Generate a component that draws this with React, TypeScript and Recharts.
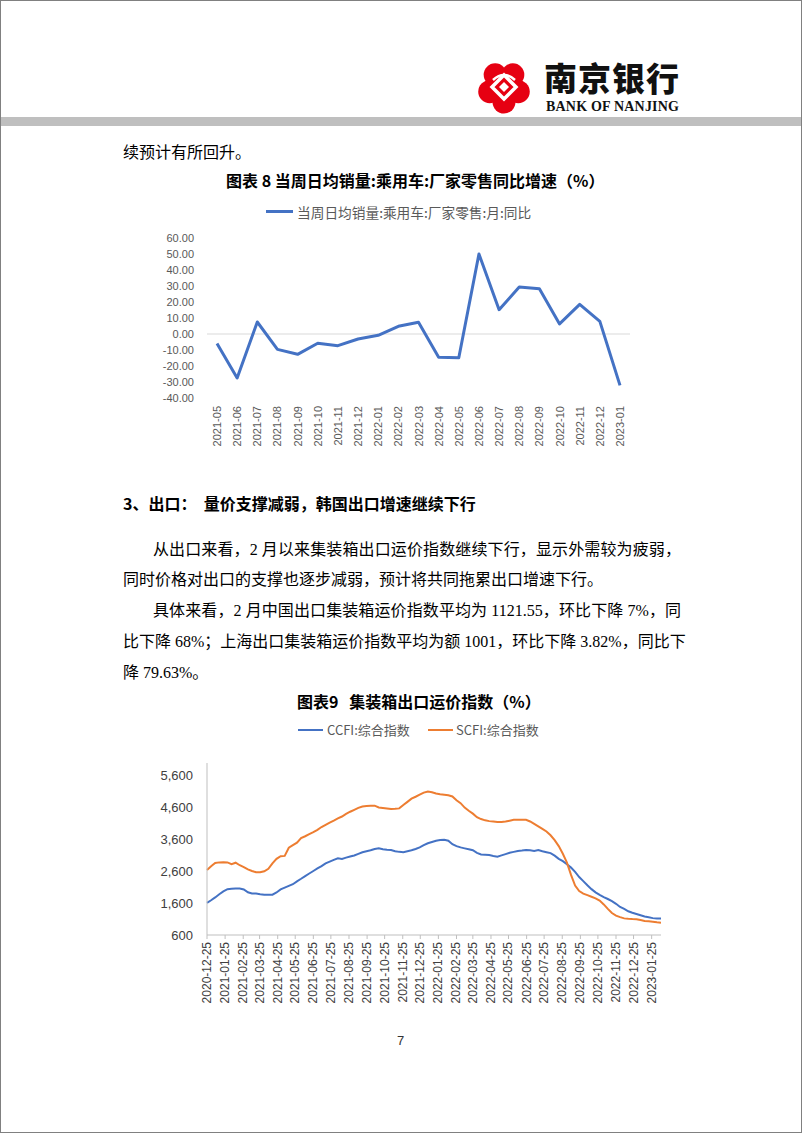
import React from 'react';
import { LineChart, Line, XAxis, YAxis, ReferenceLine } from 'recharts';

// 图表8: 当周日均销量:乘用车:厂家零售:月:同比 (%)
const salesMonths = [
  '2021-05', '2021-06', '2021-07', '2021-08', '2021-09', '2021-10', '2021-11',
  '2021-12', '2022-01', '2022-02', '2022-03', '2022-04', '2022-05', '2022-06',
  '2022-07', '2022-08', '2022-09', '2022-10', '2022-11', '2022-12', '2023-01',
];
const salesYoY = [
  -6.0, -27.5, 7.5, -9.6, -12.7, -5.8, -7.3, -3.1, -0.8, 4.8, 7.3, -14.6, -14.8, 50.0,
  15.2, 29.4, 28.3, 6.3, 18.5, 7.9, -32.1,
];
const salesTicks = [-40, -30, -20, -10, 0, 10, 20, 30, 40, 50, 60];

// 图表9: 集装箱出口运价指数, weekly from 2020-12-25
const freightStart = '2020-12-25';
const ccfi = [
  1610, 1690, 1780, 1880, 1970, 2040, 2055, 2060, 2060, 2030,
  1940, 1905, 1900, 1880, 1865, 1860, 1865, 1935, 2030, 2087,
  2140, 2195, 2285, 2365, 2450, 2530, 2610, 2690, 2765, 2850,
  2905, 2960, 3009, 2990, 3030, 3065, 3095, 3145, 3198, 3230,
  3260, 3300, 3320, 3290, 3275, 3270, 3230, 3210, 3200, 3230,
  3260, 3300, 3350, 3420, 3480, 3520, 3560, 3580, 3590, 3560,
  3450, 3390, 3350, 3320, 3290, 3260, 3180, 3130, 3120, 3110,
  3080, 3060, 3100, 3140, 3180, 3210, 3240, 3250, 3265, 3260,
  3240, 3270, 3230, 3200, 3170, 3090, 2990, 2920, 2820, 2716,
  2580, 2420, 2290, 2160, 2040, 1940, 1860, 1790, 1730, 1660,
  1580, 1480, 1420, 1345, 1300, 1260, 1220, 1180, 1155, 1130, 1115, 1120,
];
const scfi = [
  2644, 2760, 2860, 2880, 2885, 2880, 2825, 2870, 2790, 2730,
  2660, 2610, 2569, 2569, 2600, 2680, 2850, 2990, 3075, 3084,
  3340, 3420, 3500, 3640, 3700, 3764, 3830, 3900, 3990, 4060,
  4131, 4190, 4260, 4320, 4400, 4470, 4530, 4590, 4635, 4648,
  4655, 4660, 4605, 4590, 4575, 4555, 4560, 4575, 4680, 4780,
  4880, 4940, 5005, 5070, 5106, 5080, 5040, 5020, 5005, 4985,
  4950, 4830, 4740, 4600, 4500, 4410, 4300, 4240, 4200, 4175,
  4160, 4145, 4150, 4165, 4190, 4215, 4220, 4220, 4215, 4165,
  4090, 4010, 3930, 3850, 3730, 3580, 3390, 3150, 2870, 2487,
  2150, 1980, 1900, 1850, 1800, 1752, 1680, 1560, 1420, 1290,
  1207, 1160, 1122, 1108, 1100, 1095, 1070, 1040, 1030, 1018, 1000, 987,
];
const freightTicks = [
  '2020-12-25', '2021-01-25', '2021-02-25', '2021-03-25', '2021-04-25', '2021-05-25',
  '2021-06-25', '2021-07-25', '2021-08-25', '2021-09-25', '2021-10-25', '2021-11-25',
  '2021-12-25', '2022-01-25', '2022-02-25', '2022-03-25', '2022-04-25', '2022-05-25',
  '2022-06-25', '2022-07-25', '2022-08-25', '2022-09-25', '2022-10-25', '2022-11-25',
  '2022-12-25', '2023-01-25',
];
const freightYTicks = [600, 1600, 2600, 3600, 4600, 5600];

const DAY = 86400000;
const toDay = (s: string) => Date.parse(s + 'T00:00:00Z') / DAY;
const fromDay = (d: number) => new Date(d * DAY).toISOString().slice(0, 10);

const salesData = salesMonths.map((m, i) => ({ month: m, yoy: salesYoY[i] }));
const freightData = ccfi.map((v, i) => ({
  day: toDay(freightStart) + i * 7,
  ccfi: v,
  scfi: scfi[i],
}));

const CJK = '"Noto Sans CJK SC", sans-serif';
const BODY = '"Liberation Serif", "Noto Sans CJK SC", serif';
const AXIS = '"Liberation Sans", Arial, sans-serif';

function RotatedTick(props: any) {
  const { x, y, payload, fontSize, fill, format } = props;
  const label = format ? format(payload.value) : payload.value;
  return (
    <text
      x={x}
      y={y}
      transform={`rotate(-90 ${x} ${y})`}
      textAnchor="end"
      dominantBaseline="central"
      fontSize={fontSize}
      fill={fill}
      fontFamily={AXIS}
    >
      {label}
    </text>
  );
}

function TextLine({ left, center, width, children, bold, size = 16, justify }: any) {
  return (
    <div
      style={{
        position: 'absolute',
        left,
        top: center - 10,
        width,
        height: 20,
        lineHeight: '20px',
        fontSize: size,
        fontFamily: bold ? CJK : BODY,
        fontWeight: bold ? 700 : 400,
        color: '#000',
        whiteSpace: 'nowrap',
        textAlign: justify ? 'justify' : 'left',
        textAlignLast: justify ? 'justify' : 'auto',
      } as React.CSSProperties}
    >
      {children}
    </div>
  );
}

function Logo() {
  const petals = [90, 162, 234, 306, 18];
  return (
    <svg style={{ position: 'absolute', left: 474, top: 57 }} width={58} height={58} viewBox="0 0 58 58">
      {petals.map((a) => (
        <circle
          key={a}
          cx={29 + 15 * Math.cos((a * Math.PI) / 180)}
          cy={29 + 15 * Math.sin((a * Math.PI) / 180)}
          r={11.5}
          fill="#E60012"
        />
      ))}
      <circle cx={29} cy={29} r={16} fill="#E60012" />
      <path d="M29 17 L41 29 L29 41 L17 29 Z" fill="none" stroke="#fff" strokeWidth={3.5} />
      <path d="M29 24 L34 29 L29 34 L24 29 Z" fill="#fff" />
      <path d="M18 22 Q29 12 40 22" fill="none" stroke="#fff" strokeWidth={2.5} />
    </svg>
  );
}

export default function App() {
  return (
    <div
      style={{
        position: 'relative',
        width: 802,
        height: 1133,
        boxSizing: 'border-box',
        border: '1px solid #808080',
        background: '#fff',
        overflow: 'hidden',
      }}
    >
      <style>{`body{margin:0}`}</style>

      {/* header */}
      <Logo />
      <div
        style={{
          position: 'absolute', left: 543, top: 60, fontSize: 33, lineHeight: '33px', height: 33,
          fontFamily: CJK, fontWeight: 900, color: '#111', letterSpacing: 1,
        }}
      >
        南京银行
      </div>
      <div
        style={{
          position: 'absolute', left: 545, top: 99, fontSize: 14, lineHeight: '14px',
          fontFamily: '"Liberation Serif", serif', fontWeight: 700, color: '#111', letterSpacing: 0.2,
        }}
      >
        BANK OF NANJING
      </div>
      <div style={{ position: 'absolute', left: 0, top: 116, width: 802, height: 9, background: '#BFBFBF' }} />

      <TextLine left={122} center={152}>续预计有所回升。</TextLine>
      <TextLine left={225} center={179} bold>图表 8 当周日均销量:乘用车:厂家零售同比增速（%）</TextLine>

      {/* chart 8 legend */}
      <div style={{ position: 'absolute', left: 265, top: 209, width: 27, height: 3, background: '#4472C4' }} />
      <div
        style={{
          position: 'absolute', left: 296, top: 201, fontSize: 13.7, lineHeight: '20px',
          fontFamily: CJK, color: '#595959', whiteSpace: 'nowrap',
        }}
      >
        当周日均销量:乘用车:厂家零售:月:同比
      </div>

      <div style={{ position: 'absolute', left: 150, top: 195 }}>
        <LineChart width={500} height={265} data={salesData} margin={{ top: 42, right: 21, bottom: 3, left: 0 }}>
          <XAxis
            dataKey="month"
            axisLine={false}
            tickLine={false}
            interval={0}
            height={60}
            padding={{ left: 10, right: 10 }}
            tick={<RotatedTick fontSize={11} fill="#595959" />}
          />
          <YAxis
            width={56}
            domain={[-40, 60]}
            ticks={salesTicks}
            interval={0}
            axisLine={false}
            tickLine={false}
            tickMargin={7}
            tickFormatter={(v: number) => v.toFixed(2)}
            tick={{ fontSize: 11, fill: '#595959', fontFamily: AXIS }}
          />
          <ReferenceLine y={0} stroke="#D9D9D9" strokeWidth={1} />
          <Line
            dataKey="yoy"
            stroke="#4472C4"
            strokeWidth={3}
            dot={false}
            strokeLinejoin="round"
            isAnimationActive={false}
          />
        </LineChart>
      </div>

      <TextLine left={122} center={502} bold>
        3、出口：&nbsp;&nbsp;量价支撑减弱，韩国出口增速继续下行
      </TextLine>
      <TextLine left={152} center={549} width={528} justify>
        从出口来看，2 月以来集装箱出口运价指数继续下行，显示外需较为疲弱，
      </TextLine>
      <TextLine left={122} center={579}>
        同时价格对出口的支撑也逐步减弱，预计将共同拖累出口增速下行。
      </TextLine>
      <TextLine left={152} center={610} width={528} justify>
        具体来看，2 月中国出口集装箱运价指数平均为 1121.55，环比下降 7%，同
      </TextLine>
      <TextLine left={122} center={641} width={558} justify>
        比下降 68%；上海出口集装箱运价指数平均为额 1001，环比下降 3.82%，同比下
      </TextLine>
      <TextLine left={122} center={672}>降 79.63%。</TextLine>

      <TextLine left={296} center={700} bold>图表9&nbsp;&nbsp;&nbsp;集装箱出口运价指数（%）</TextLine>

      {/* chart 9 legend */}
      <div style={{ position: 'absolute', left: 297, top: 728, width: 25, height: 2, background: '#4472C4' }} />
      <div
        style={{
          position: 'absolute', left: 326, top: 719, fontSize: 13, lineHeight: '20px',
          fontFamily: CJK, color: '#595959', whiteSpace: 'nowrap',
        }}
      >
        CCFI:综合指数
      </div>
      <div style={{ position: 'absolute', left: 427, top: 728, width: 25, height: 2, background: '#ED7D31' }} />
      <div
        style={{
          position: 'absolute', left: 455, top: 719, fontSize: 13, lineHeight: '20px',
          fontFamily: CJK, color: '#595959', whiteSpace: 'nowrap',
        }}
      >
        SCFI:综合指数
      </div>

      <div style={{ position: 'absolute', left: 150, top: 745 }}>
        <LineChart width={520} height={264} data={freightData} margin={{ top: 17, right: 10, bottom: 0, left: 0 }}>
          <XAxis
            type="number"
            dataKey="day"
            domain={['dataMin', 'dataMax']}
            ticks={freightTicks.map(toDay)}
            interval={0}
            height={75}
            axisLine={{ stroke: '#BFBFBF' }}
            tickLine={{ stroke: '#BFBFBF' }}
            tickSize={4}
            tickMargin={3}
            tick={<RotatedTick fontSize={12} fill="#404040" format={fromDay} />}
          />
          <YAxis
            width={56}
            domain={[600, 6000]}
            ticks={freightYTicks}
            interval={0}
            axisLine={{ stroke: '#BFBFBF' }}
            tickLine={false}
            tickMargin={8}
            tickFormatter={(v: number) => v.toLocaleString('en-US')}
            tick={{ fontSize: 13, fill: '#404040', fontFamily: AXIS }}
          />
          <Line dataKey="ccfi" stroke="#4472C4" strokeWidth={2} dot={false} isAnimationActive={false} />
          <Line dataKey="scfi" stroke="#ED7D31" strokeWidth={2} dot={false} isAnimationActive={false} />
        </LineChart>
      </div>

      <div
        style={{
          position: 'absolute', left: 396, top: 1031, fontSize: 13, lineHeight: '18px',
          fontFamily: AXIS, color: '#333',
        }}
      >
        7
      </div>
    </div>
  );
}
